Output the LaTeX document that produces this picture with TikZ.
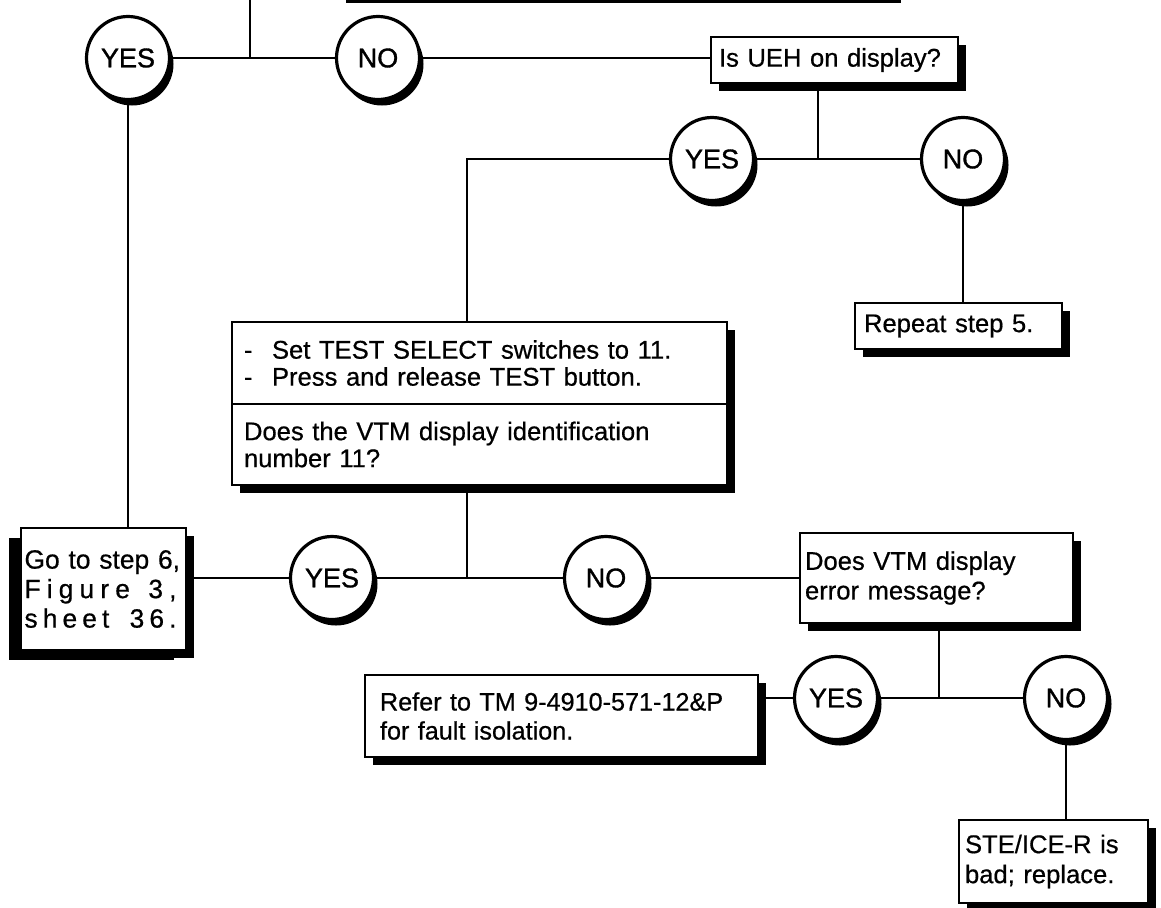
\documentclass[tikz,border=0pt]{standalone}
\usepackage{fontspec}
\setmainfont{Liberation Sans}[FakeBold=0.6]
\newfontfamily\yesnofont{Liberation Sans}[FakeBold=1.2]
\usepackage{tikz}
\usetikzlibrary{shadows}

\begin{document}
\begin{tikzpicture}[x=0.5pt, y=-0.5pt,
    decision/.style = {draw, circle, fill=white, line width=1.6pt, minimum size=41.5pt, inner sep=0pt,
        font=\yesnofont\fontsize{13.5}{15}\selectfont,
        drop shadow={opacity=1, fill=black, shadow xshift=2pt, shadow yshift=-3pt}},
    stepbox/.style = {draw, rectangle, fill=white, line width=1.3pt, align=left, inner ysep=0pt,
        font=\fontsize{12.8}{13.5}\selectfont,
        drop shadow={opacity=1, fill=black, shadow xshift=4pt, shadow yshift=-4pt}},
    link/.style = {line width=1.3pt}]
            \useasboundingbox (0,0) rectangle (1161,907);

            \node[stepbox, minimum width=277.5pt, minimum height=30pt] (prevstep) at (615.5,-35) {};
            \coordinate (top) at (250,0);
            \coordinate (j1) at (250,58);

            \node[decision] (yes1) at (128,58) {YES};
            \node[decision] (no1) at (378,58) {NO};
            \node[stepbox, text width=115.5pt, inner xsep=4pt, minimum height=23pt] (ueh) at (834.5,60) {Is UEH on display?};

            \draw[link] (top) -- (j1);
            \draw[link] (yes1) -- (no1);
            \draw[link] (no1.east) -- (no1.east -| ueh.west);

            \coordinate (j2) at (818,159);
            \node[decision] (yes2) at (712,159) {YES};
            \node[decision] (no2) at (963,159) {NO};
            \node[stepbox, text width=94.5pt, inner xsep=4.5pt, minimum height=23pt] (repeat) at (958.5,326) {Repeat step 5.};

            \draw[link] (ueh.south -| j2) -- (j2);
            \draw[link] (yes2) -- (no2);
            \draw[link] (no2.south) -- (no2.south |- repeat.north);

            \coordinate (j3) at (467,578);
            \node[stepbox, text width=235.5pt, inner xsep=6pt, minimum height=41pt] (settest) at (479.5,363)
                {\makebox[14pt][l]{-}Set TEST SELECT switches to 11.\\\makebox[14pt][l]{-}Press and release TEST button.};
            \node[stepbox, text width=235.5pt, inner xsep=6pt, minimum height=40.5pt] (query) at (479.5,444.5)
                {Does the VTM display identification\\number 11?};

            \draw[link] (yes2.west) -| (settest.north -| j3);
            \draw[link] (query.south -| j3) -- (j3);

            \node[stepbox, text width=79pt, inner xsep=1.75pt, minimum height=61pt, font=\fontsize{13.2}{14.75}\selectfont,
                drop shadow={opacity=1, fill=black, shadow xshift=-6pt, shadow yshift=-5pt}] (go) at (103.5,589)
                {\mbox{Go to step 6,}\\
                \makebox[76pt][s]{F\hfill i\hfill g\hfill u\hfill r\hfill e\hfill\hfill\hfill 3\hfill ,}\\
                \makebox[76pt][s]{s\hfill h\hfill e\hfill e\hfill t\hfill\hfill\hfill\hfill 3\hfill 6\hfill .}};
            \node[decision] (yes3) at (332,578) {YES};
            \node[decision] (no3) at (606,578) {NO};
            \node[stepbox, text width=131.5pt, inner xsep=2.5pt, minimum height=45pt, font=\fontsize{12.8}{14.8}\selectfont] (vtmerr) at (936.5,578)
                {Does VTM display\\error message?};

            \draw[link] (yes1.south) -- (yes1.south |- go.north);
            \draw[link] (yes3.west) -- (yes3.west -| go.east);
            \draw[link] (yes3) -- (no3);
            \draw[link] (no3.east) -- (no3.east -| vtmerr.west);

            \coordinate (j4) at (939,698);
            \node[stepbox, text width=181.5pt, inner xsep=7.5pt, minimum height=41pt, font=\fontsize{12.6}{14.5}\selectfont] (refer) at (561.5,716)
                {Refer to TM 9-4910-571-12\&P\\for fault isolation.};
            \node[decision] (yes4) at (836,698) {YES};
            \node[decision] (no4) at (1066,698) {NO};
            \node[stepbox, text width=88.5pt, inner xsep=3pt, minimum height=41.5pt, font=\fontsize{12.8}{15}\selectfont] (ste) at (1053.5,861.5)
                {STE/ICE-R is\\bad; replace.};

            \draw[link] (vtmerr.south -| j4) -- (j4);
            \draw[link] (yes4) -- (no4);
            \draw[link] (yes4.west) -- (yes4.west -| refer.east);
            \draw[link] (no4.south) -- (no4.south |- ste.north);
        \end{tikzpicture}
\end{document}
